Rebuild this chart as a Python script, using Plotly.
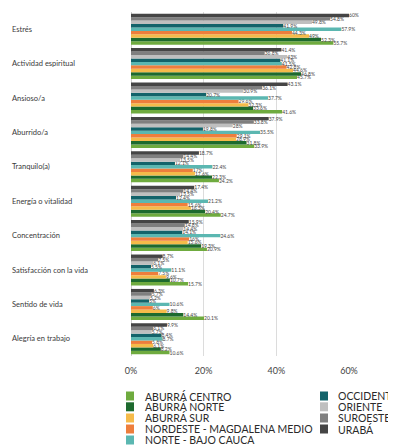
import plotly.graph_objects as go

categories = ["Estrés", "Actividad espiritual", "Ansioso/a", "Aburrido/a", "Tranquilo(a)",
              "Energía o vitalidad", "Concentración", "Satisfacción con la vida",
              "Sentido de vida", "Alegría en trabajo"]

series_names = ["ABURRÁ CENTRO", "ABURRÁ NORTE", "ABURRÁ SUR", "NORDESTE - MAGDALENA MEDIO",
                "NORTE - BAJO CAUCA", "OCCIDENTE", "ORIENTE", "SUROESTE", "URABÁ"]

colors = ["#6FAB3F", "#1D6A2E", "#F5BB4A", "#EE7E3C", "#5BB7B1",
          "#13636A", "#BFBFBF", "#7F7F7F", "#454545"]

aburra_centro = [55.7, 45.7, 41.6, 33.9, 24.2, 24.7, 20.9, 15.7, 20.1, 10.6]
aburra_norte = [52.3, 46.8, 33.6, 31.8, 22.3, 20.4, 19.3, 10.7, 14.4, 8.2]
aburra_sur = [49.0, 44.6, 32.3, 28.9, 17.6, 16.5, 15.6, 9.6, 9.8, 6.1]
nordeste = [44.3, 42.8, 29.6, 29.1, 17.0, 15.6, 16.0, 7.5, 6.0, 5.8]
norte_bajo_cauca = [57.9, 41.5, 37.7, 35.5, 22.4, 21.2, 24.6, 11.1, 10.6, 8.7]
occidente = [41.9, 41.1, 20.7, 19.8, 12.1, 12.4, 14.1, 5.5, 5.0, 8.4]
oriente = [49.8, 43.0, 30.9, 28.0, 13.5, 13.5, 14.4, 6.1, 5.2, 5.7]
suroeste = [54.8, 36.8, 36.1, 33.8, 14.4, 14.4, 14.8, 7.5, 5.7, 6.1]
uraba = [60.0, 41.4, 43.1, 37.9, 18.7, 17.4, 15.9, 8.7, 6.3, 9.9]

series_values = [aburra_centro, aburra_norte, aburra_sur, nordeste, norte_bajo_cauca,
                 occidente, oriente, suroeste, uraba]

x_tickvals = [0, 20, 40, 60]
x_ticktext = ["0%", "20%", "40%", "60%"]

# layout geometry (figure pixels; the page adds an 8px body margin)
W, H = 396, 446
ML, MR, MT, MB = 123, 55, 4, 98
PW, PH = W - ML - MR, H - MT - MB


def px_x(p):
    return (p - ML) / PW


def px_y(p):
    return (H - MB - p) / PH


def fmt(v):
    return f"{v:.0f}%" if abs(v - round(v)) < 1e-9 else f"{v:.1f}%"


fig = go.Figure()
for name, vals, col in zip(series_names, series_values, colors):
    fig.add_trace(go.Bar(
        y=categories, x=vals, name=name, orientation="h",
        marker=dict(color=col, line=dict(width=0)),
        text=[fmt(v) for v in vals], textposition="outside",
        textfont=dict(size=5, color="#444444", family="Lato"),
        constraintext="none", cliponaxis=False, showlegend=False,
    ))

annotations = []
for c in categories:
    annotations.append(dict(
        x=px_x(2), xref="paper", y=c, yref="y", text=c, showarrow=False,
        xanchor="left", yanchor="middle",
        font=dict(size=7.5, color="#3a3a3a", family="Lato")))

shapes = []
row_y = [388, 398.8, 410, 421, 432]
for i, name in enumerate(series_names):
    if i < 5:
        sx, tx, yy = 118, 134.5, row_y[i]
    else:
        sx, tx, yy = 312, 327.5, row_y[i - 5]
    shapes.append(dict(type="rect", xref="paper", yref="paper",
                       x0=px_x(sx), x1=px_x(sx + 8), y0=px_y(yy + 4.5), y1=px_y(yy - 4.5),
                       fillcolor=colors[i], line=dict(width=0)))
    annotations.append(dict(
        x=px_x(tx), xref="paper", y=px_y(yy), yref="paper", text=name, showarrow=False,
        xanchor="left", yanchor="middle",
        font=dict(size=10.5, color="#2a2a2a", family="Lato")))

fig.update_layout(
    width=W, height=H,
    margin=dict(l=ML, r=MR, t=MT, b=MB, pad=0),
    paper_bgcolor="white", plot_bgcolor="white",
    barmode="group", bargap=0.1, bargroupgap=0,
    xaxis=dict(range=[0, 60], tickvals=x_tickvals, ticktext=x_ticktext,
               showgrid=True, gridcolor="#dcdcdc", gridwidth=1,
               zeroline=True, zerolinecolor="#cfcfcf", zerolinewidth=1,
               tickfont=dict(size=9, color="#444444", family="Lato"),
               ticklabelstandoff=8, ticks="", showline=False),
    yaxis=dict(categoryorder="array", categoryarray=categories[::-1],
               showticklabels=False, ticks="", showgrid=False, showline=False),
    annotations=annotations, shapes=shapes,
    showlegend=False,
)

fig.write_html("out.html")
